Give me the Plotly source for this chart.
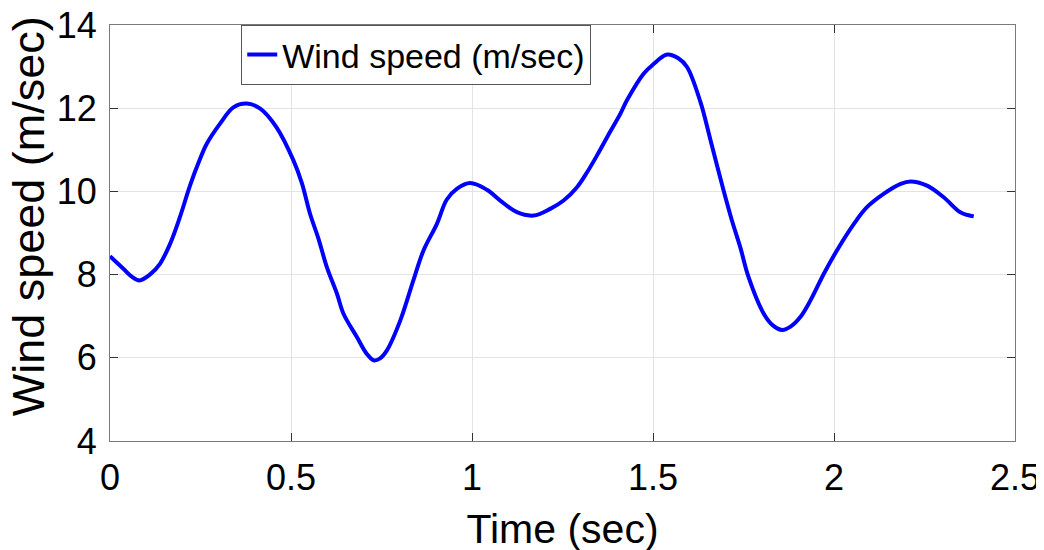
import plotly.graph_objects as go

time_s = [0, 0.037, 0.06, 0.081, 0.11, 0.138, 0.166, 0.193, 0.221, 0.245, 0.267, 0.304,
          0.341, 0.378, 0.415, 0.46, 0.507, 0.53, 0.553, 0.576, 0.599, 0.627, 0.645,
          0.682, 0.709, 0.728, 0.745, 0.765, 0.802, 0.838, 0.866, 0.903, 0.93, 0.958,
          0.995, 1.041, 1.078, 1.124, 1.17, 1.216, 1.253, 1.29, 1.318, 1.345, 1.382,
          1.41, 1.428, 1.474, 1.5, 1.539, 1.57, 1.594, 1.631, 1.658, 1.695, 1.718,
          1.741, 1.764, 1.806, 1.831, 1.857, 1.88, 1.907, 1.935, 1.972, 2.008, 2.055,
          2.091, 2.137, 2.184, 2.211, 2.257, 2.303, 2.349, 2.386]
wind_speed = [8.44, 8.14, 7.95, 7.86, 8.0, 8.26, 8.74, 9.38, 10.14, 10.7, 11.14, 11.63,
              12.02, 12.11, 11.99, 11.54, 10.74, 10.2, 9.45, 8.86, 8.18, 7.54, 7.06,
              6.50, 6.10, 5.94, 5.98, 6.18, 6.90, 7.86, 8.58, 9.22, 9.80, 10.06,
              10.20, 10.04, 9.78, 9.50, 9.42, 9.58, 9.78, 10.10, 10.46, 10.86, 11.44,
              11.87, 12.19, 12.83, 13.05, 13.29, 13.2, 12.99, 12.15, 11.26, 10.02, 9.30,
              8.66, 7.94, 7.06, 6.78, 6.67, 6.75, 6.98, 7.38, 8.02, 8.58, 9.22,
              9.62, 9.94, 10.18, 10.24, 10.14, 9.86, 9.50, 9.40]

x_ticks = [0, 0.5, 1, 1.5, 2, 2.5]
x_tick_labels = ["0", "0.5", "1", "1.5", "2", "2.5"]
y_ticks = [4, 6, 8, 10, 12, 14]
y_tick_labels = ["4", "6", "8", "10", "12", "14"]
x_title = "Time (sec)"
y_title = "Wind speed (m/sec)"

FONT = "Liberation Sans, Arial, Helvetica, sans-serif"

fig = go.Figure()
fig.add_trace(go.Scatter(
    x=time_s, y=wind_speed, mode="lines", name="Wind speed (m/sec)",
    line=dict(color="#0000FF", width=4, shape="spline", smoothing=1.0),
))

axis_common = dict(
    showline=True, linecolor="#7a7a7a", linewidth=1, mirror="ticks",
    ticks="inside", ticklen=8, tickcolor="#333333", tickwidth=1,
    showgrid=True, gridcolor="#e3e3e3", gridwidth=1, zeroline=False,
    tickfont=dict(family=FONT, size=36, color="black"),
    ticklabeloverflow="allow",
)

fig.update_layout(
    width=1044, height=550,
    paper_bgcolor="white", plot_bgcolor="white",
    margin=dict(l=102, r=37, t=17, b=117, autoexpand=False),
    font=dict(family=FONT, color="black"),
    xaxis=dict(range=[0, 2.5], tickvals=x_ticks, ticktext=x_tick_labels,
               title=dict(text=x_title, font=dict(family=FONT, size=41), standoff=17),
               ticklabelstandoff=5, **axis_common),
    yaxis=dict(range=[4, 14], tickvals=y_ticks, ticktext=y_tick_labels,
               ticklabelstandoff=5, **axis_common),
    annotations=[dict(
        text=y_title, textangle=-90, xref="paper", yref="paper",
        x=-0.0907, y=0.54, xanchor="center", yanchor="middle", showarrow=False,
        font=dict(family=FONT, size=45, color="black"),
    )],
    showlegend=True,
    legend=dict(x=0.145, y=1.0, xanchor="left", yanchor="top",
                bgcolor="white", bordercolor="#555555", borderwidth=1,
                font=dict(family=FONT, size=34, color="black"),
                itemwidth=30, tracegroupgap=0),
)

fig.write_html("out.html")
